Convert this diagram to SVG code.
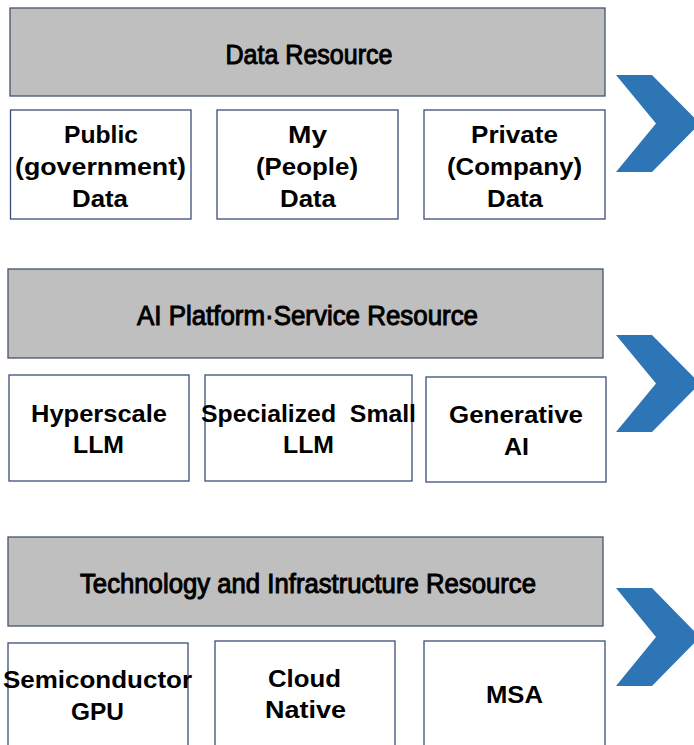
<svg xmlns="http://www.w3.org/2000/svg" width="694" height="745" viewBox="0 0 694 745">
<style>
.bar{fill:#bfbfbf;stroke:#44546a;stroke-width:1.3}
.box{fill:#ffffff;stroke:#3b4e78;stroke-width:1.3}
.chev{fill:#2e75b6}
.title{font-family:"Liberation Sans",Arial,sans-serif;font-size:27px;fill:#000;stroke:#000;stroke-width:1;text-anchor:middle}
.lbl{font-family:"Liberation Sans",Arial,sans-serif;font-size:24px;font-weight:bold;fill:#000;text-anchor:middle}
</style>
<g id="data-resource">
<rect class="bar" x="10" y="8" width="595" height="88"/>
<text class="title" x="309" y="64" textLength="167" lengthAdjust="spacingAndGlyphs">Data Resource</text>
</g>
<g id="public-data">
<rect class="box" x="10.5" y="110" width="180.5" height="109"/>
<text class="lbl" x="101" y="143" textLength="74" lengthAdjust="spacingAndGlyphs">Public</text>
<text class="lbl" x="100.5" y="175" textLength="171" lengthAdjust="spacingAndGlyphs">(government)</text>
<text class="lbl" x="100" y="207" textLength="56" lengthAdjust="spacingAndGlyphs">Data</text>
</g>
<g id="my-data">
<rect class="box" x="217" y="110" width="181" height="109"/>
<text class="lbl" x="307.5" y="143" textLength="39" lengthAdjust="spacingAndGlyphs">My</text>
<text class="lbl" x="307" y="175" textLength="102" lengthAdjust="spacingAndGlyphs">(People)</text>
<text class="lbl" x="308" y="207" textLength="56" lengthAdjust="spacingAndGlyphs">Data</text>
</g>
<g id="private-data">
<rect class="box" x="424" y="110" width="181" height="109"/>
<text class="lbl" x="514.5" y="143" textLength="87" lengthAdjust="spacingAndGlyphs">Private</text>
<text class="lbl" x="514.5" y="175" textLength="135" lengthAdjust="spacingAndGlyphs">(Company)</text>
<text class="lbl" x="515" y="207" textLength="56" lengthAdjust="spacingAndGlyphs">Data</text>
</g>
<g id="ai-platform-service-resource">
<rect class="bar" x="8" y="269" width="595" height="89"/>
<text class="title" x="307.5" y="325" textLength="341" lengthAdjust="spacingAndGlyphs">AI  Platform·Service Resource</text>
</g>
<g id="hyperscale-llm">
<rect class="box" x="9" y="375" width="180" height="106"/>
<text class="lbl" x="99" y="422" textLength="136" lengthAdjust="spacingAndGlyphs">Hyperscale</text>
<text class="lbl" x="98.5" y="453" textLength="51" lengthAdjust="spacingAndGlyphs">LLM</text>
</g>
<g id="specialized-small-llm">
<rect class="box" x="205" y="375" width="207" height="106"/>
<text class="lbl" x="308.5" y="422" textLength="215" lengthAdjust="spacingAndGlyphs" xml:space="preserve">Specialized  Small</text>
<text class="lbl" x="308.5" y="453" textLength="51" lengthAdjust="spacingAndGlyphs">LLM</text>
</g>
<g id="generative-ai">
<rect class="box" x="426" y="377" width="180" height="105"/>
<text class="lbl" x="516" y="423" textLength="134" lengthAdjust="spacingAndGlyphs">Generative</text>
<text class="lbl" x="516.5" y="455" textLength="25" lengthAdjust="spacingAndGlyphs">AI</text>
</g>
<g id="technology-infrastructure-resource">
<rect class="bar" x="8" y="537" width="595" height="89"/>
<text class="title" x="308" y="593" textLength="456" lengthAdjust="spacingAndGlyphs">Technology and Infrastructure Resource</text>
</g>
<g id="semiconductor-gpu">
<rect class="box" x="8" y="643" width="180" height="110"/>
<text class="lbl" x="97.5" y="688" textLength="189" lengthAdjust="spacingAndGlyphs">Semiconductor</text>
<text class="lbl" x="97.5" y="720" textLength="53" lengthAdjust="spacingAndGlyphs">GPU</text>
</g>
<g id="cloud-native">
<rect class="box" x="215" y="641" width="180" height="112"/>
<text class="lbl" x="304.5" y="687" textLength="73" lengthAdjust="spacingAndGlyphs">Cloud</text>
<text class="lbl" x="305.5" y="718" textLength="81" lengthAdjust="spacingAndGlyphs">Native</text>
</g>
<g id="msa">
<rect class="box" x="424" y="641" width="181" height="112"/>
<text class="lbl" x="514.5" y="703" textLength="57" lengthAdjust="spacingAndGlyphs">MSA</text>
</g>
<g id="connectors">
<polygon class="chev" points="616,75 652,75 700,123.5 652,172 616,172 656,123.5"/>
<polygon class="chev" points="616,335 652,335 700,383.5 652,432 616,432 656,383.5"/>
<polygon class="chev" points="616,588 652,588 700,637 652,686 616,686 656,637"/>
</g>
</svg>
